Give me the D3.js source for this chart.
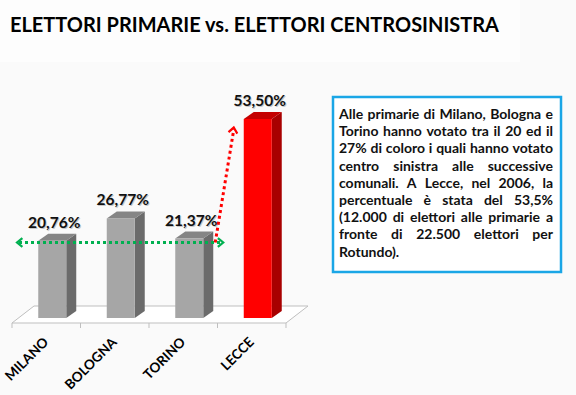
<!DOCTYPE html>
<html>
<head>
<meta charset="utf-8">
<script src="https://cdn.jsdelivr.net/npm/d3@7"></script>
<style>
  html, body { margin: 0; padding: 0; background: #fafafa; }
  svg { display: block; }
</style>
</head>
<body>
<div id="svg-container"></div>
<script>
const Width = 576;
const Height = 395;

// dati
const cities = ["MILANO", "BOLOGNA", "TORINO", "LECCE"];
const values = [20.76, 26.77, 21.37, 53.50];
const valueLabels = ["20,76%", "26,77%", "21,37%", "53,50%"];
const titleText = "ELETTORI PRIMARIE vs. ELETTORI CENTROSINISTRA";
const noteLines = [
    "Alle primarie di Milano, Bologna e",
    "Torino hanno votato tra il 20 ed il",
    "27% di coloro i quali hanno votato",
    "centro sinistra alle successive",
    "comunali. A Lecce, nel 2006, la",
    "percentuale è stata del 53,5%",
    "(12.000 di elettori alle primarie a",
    "fronte di 22.500 elettori per",
    "Rotundo)."
];

const svg = d3.select("#svg-container").append("svg").attr("width", Width).attr("height", Height);

svg.append("rect").attr("width", Width).attr("height", Height).attr("fill", "#fafafa");
svg.append("rect").attr("width", 520).attr("height", 62).attr("fill", "#fdfdfd");

// titolo: dimensione scelta per occupare ~489px
const title = svg.append("text")
    .attr("x", 10).attr("y", 32)
    .style("font-family", "Lato, 'Open Sans', sans-serif")
    .style("font-weight", "bold").style("font-size", "24px")
    .attr("fill", "#000")
    .text(titleText);
const tw = title.node().getComputedTextLength();
title.style("font-size", (24 * 489 / tw) + "px");

const x = d3.scaleBand().domain(cities).range([12, 286]).padding(0);
const y = d3.scaleLinear().domain([0, 53.5]).range([318, 119]);

const barW = 28, dx = 10, dy = -7, shift = 6;
const floorY = 323, floorDx = 22, floorDy = -17;

// pavimento
const x0 = x.range()[0], x1 = x.range()[1];
svg.append("path")
    .attr("d", `M${x0},${floorY} L${x1},${floorY} L${x1 + floorDx},${floorY + floorDy} L${x0 + floorDx},${floorY + floorDy} Z`)
    .attr("fill", "#ffffff").attr("stroke", "#bfbfbf").attr("stroke-width", 1);

const ticks = cities.map(c => x(c)).concat([x1]);
svg.selectAll(".tick").data(ticks).join("line")
    .attr("x1", d => d).attr("x2", d => d)
    .attr("y1", floorY).attr("y2", floorY + 5)
    .attr("stroke", "#bfbfbf");

const colors = {
    grey: { front: "#a6a6a6", side: "#6b6b6b", top: "#858585" },
    red: { front: "#ff0000", side: "#a80000", top: "#c40000" }
};

const bars = svg.selectAll(".bar").data(cities).join("g").attr("class", "bar");
bars.each(function (c, i) {
    const g = d3.select(this);
    const col = c === "LECCE" ? colors.red : colors.grey;
    const left = x(c) + x.bandwidth() / 2 - barW / 2 + shift;
    const top = y(values[i]);
    const bottom = y(0);
    // lato
    g.append("path")
        .attr("d", `M${left + barW},${top} L${left + barW + dx},${top + dy} L${left + barW + dx},${bottom + dy} L${left + barW},${bottom} Z`)
        .attr("fill", col.side);
    // sopra
    g.append("path")
        .attr("d", `M${left},${top} L${left + dx},${top + dy} L${left + barW + dx},${top + dy} L${left + barW},${top} Z`)
        .attr("fill", col.top);
    // fronte
    g.append("rect")
        .attr("x", left).attr("y", top)
        .attr("width", barW).attr("height", bottom - top)
        .attr("fill", col.front);
    // etichetta valore (con ombra leggera)
    [["#c8c8c8", 1], ["#111", 0]].forEach(([fill, off]) => {
        g.append("text")
            .attr("x", left + barW / 2 + 2 + off).attr("y", top - 13 + off)
            .attr("text-anchor", "middle")
            .style("font-family", "Lato, 'Open Sans', sans-serif")
            .style("font-weight", "bold").style("font-size", "15.5px")
            .attr("fill", fill)
            .text(valueLabels[i]);
    });
});

// etichette asse
svg.selectAll(".xlab").data(cities).join("text")
    .attr("transform", c => `translate(${x(c) + x.bandwidth() / 2 + 3},${floorY + 20}) rotate(-45)`)
    .attr("text-anchor", "end")
    .style("font-family", "Lato, 'Open Sans', sans-serif")
    .style("font-weight", "bold").style("font-size", "13.5px")
    .attr("fill", "#000")
    .text(d => d);

// frecce
function chevron(px, py, angle, color) {
    const s = 7;
    const a1 = angle + Math.PI * 0.78, a2 = angle - Math.PI * 0.78;
    svg.append("path")
        .attr("d", `M${px + s * Math.cos(a1)},${py + s * Math.sin(a1)} L${px},${py} L${px + s * Math.cos(a2)},${py + s * Math.sin(a2)}`)
        .attr("fill", "none").attr("stroke", color).attr("stroke-width", 2.2);
}

const greenY = y(20.3);
const greenX0 = x0 + 5;
const greenX1 = x("TORINO") + x.bandwidth() / 2 - barW / 2 + shift + barW + dx + 10;
svg.append("line")
    .attr("x1", greenX0 + 2).attr("x2", greenX1 - 2)
    .attr("y1", greenY).attr("y2", greenY)
    .attr("stroke", "#00b050").attr("stroke-width", 3).attr("stroke-dasharray", "3,3");
chevron(greenX0, greenY, Math.PI, "#00b050");
chevron(greenX1, greenY, 0, "#00b050");

const redX0 = greenX1 - 8, redY0 = greenY;
const redX1 = x("LECCE") + x.bandwidth() / 2 - barW / 2 + shift - 10;
const redY1 = y(51.2);
svg.append("line")
    .attr("x1", redX0).attr("y1", redY0).attr("x2", redX1).attr("y2", redY1 + 2)
    .attr("stroke", "#ff0000").attr("stroke-width", 3).attr("stroke-dasharray", "3,3");
chevron(redX1, redY1, Math.atan2(redY1 - redY0, redX1 - redX0), "#ff0000");

// riquadro nota
const boxX = 333, boxY = 97, boxW = 228, boxH = 175;
svg.append("rect")
    .attr("x", boxX).attr("y", boxY).attr("width", boxW).attr("height", boxH)
    .attr("fill", "#ffffff").attr("stroke", "#1aa6e6").attr("stroke-width", 2.5);

const textLeft = 339, textRight = 553, lineH = 17.2, firstBase = 119;
const noteG = svg.append("g")
    .style("font-family", "Lato, 'Open Sans', sans-serif")
    .style("font-weight", "bold")
    .attr("fill", "#111");

// misura per scegliere la dimensione del carattere
let fontSize = 16;
const probe = noteG.append("text").style("font-size", fontSize + "px");
function widthOf(s) { probe.text(s); return probe.node().getComputedTextLength(); }
while (fontSize > 9) {
    probe.style("font-size", fontSize + "px");
    const maxW = d3.max(noteLines.slice(0, -1), l => widthOf(l));
    if (maxW <= textRight - textLeft) break;
    fontSize -= 0.25;
}
probe.style("font-size", fontSize + "px");

noteLines.forEach((line, i) => {
    const words = line.split(" ");
    const by = firstBase + i * lineH;
    const last = i === noteLines.length - 1;
    const widths = words.map(w => widthOf(w));
    const gap = last || words.length < 2
        ? widthOf("a a") - widthOf("aa")
        : (textRight - textLeft - d3.sum(widths)) / (words.length - 1);
    let cx = textLeft;
    words.forEach((w, j) => {
        noteG.append("text")
            .attr("x", cx).attr("y", by)
            .style("font-size", fontSize + "px")
            .text(w);
        cx += widths[j] + gap;
    });
});
probe.remove();
</script>
</body>
</html>
